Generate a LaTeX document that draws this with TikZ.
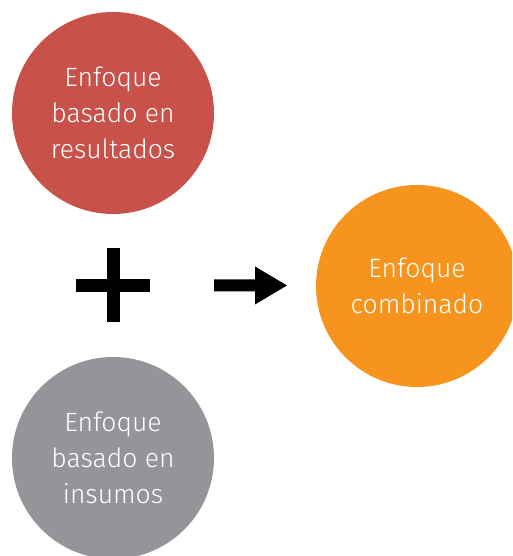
\documentclass[tikz,border=0pt]{standalone}
\usepackage{fontspec}
\setmainfont{Fira Sans Light}
\definecolor{cred}{HTML}{C8524A}
\definecolor{cgray}{HTML}{939598}
\definecolor{corange}{HTML}{F7941E}
\tikzset{
  disc/.style={circle, minimum size=202pt, inner sep=0pt, text=white, align=center,
    font=\fontsize{26.5}{36}\selectfont},
  bar/.style={fill=black, draw=none}
}
\begin{document}
\begin{tikzpicture}[x=1pt,y=1pt]
\useasboundingbox (0,0) rectangle (512,556);
\clip (0,0) rectangle (512,556);
\node[disc, fill=cred] (res) at (113,443) {Enfoque\\basado en\\resultados};
\node[disc, fill=cgray] (ins) at (113,98) {Enfoque\\basado en\\insumos};
\node[disc, fill=corange] (comb) at (417,270) {Enfoque\\combinado};
% plus sign
\coordinate (plus) at (113.3,270.5);
\fill[bar] ([shift={(-37,-6.5)}]plus) rectangle ([shift={(37,6.5)}]plus);
\fill[bar] ([shift={(-6.5,-37)}]plus) rectangle ([shift={(6.5,37)}]plus);
% arrow
\coordinate (arr) at (214,270.5);
\fill[bar] (arr) ++(0,6) -- ++(41,0) -- ++(0,13) -- (287,270.5) -- (255,251.5) -- ++(0,13) -- (214,264.5) -- cycle;
\end{tikzpicture}
\end{document}
